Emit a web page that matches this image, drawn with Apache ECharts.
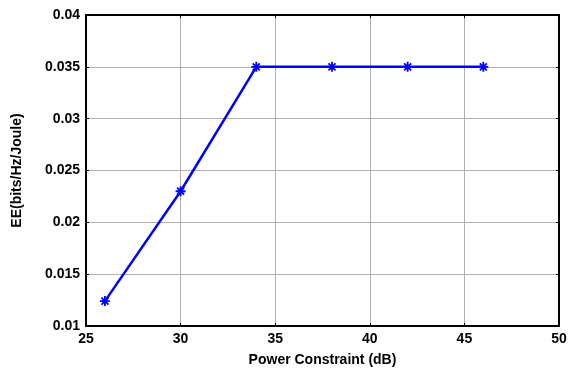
<!DOCTYPE html>
<html>
<head>
<meta charset="utf-8">
<script src="https://cdn.jsdelivr.net/npm/echarts@6/dist/echarts.min.js"></script>
<style>
  html, body { margin: 0; padding: 0; background: #fff; }
  #chart { width: 571px; height: 372px; }
</style>
</head>
<body>
<div id="chart"></div>
<script>
// Power constraint (dB) vs energy efficiency
const powerDb = [26, 30, 34, 38, 42, 46];
const energyEff = [0.0124, 0.023, 0.035, 0.035, 0.035, 0.035];
const xTicks = [25, 30, 35, 40, 45, 50];
const yTicks = [0.01, 0.015, 0.02, 0.025, 0.03, 0.035, 0.04];

const FONT = 'Liberation Sans, Arial, sans-serif';
const BLUE = '#0000ff';

// asterisk marker drawn as stroked segments
const starPath = 'path://M0,5L10,5M5,0L5,10M1.5,1.5L8.5,8.5M1.5,8.5L8.5,1.5';

const tickStyle = { show: true, inside: true, length: 3, lineStyle: { color: '#000', width: 1 } };
const gridLine = { show: true, lineStyle: { color: '#b0b0b0', type: 'solid', width: 1 } };
const labelStyle = { color: '#000', fontFamily: FONT, fontWeight: 'bold', fontSize: 14 };

const chart = echarts.init(document.getElementById('chart'), null, { renderer: 'canvas' });
chart.setOption({
  animation: false,
  backgroundColor: '#fff',
  grid: { left: 86, right: 12, top: 15, bottom: 41, containLabel: false },
  xAxis: [
    {
      type: 'value', min: xTicks[0], max: xTicks[xTicks.length - 1], interval: 5,
      name: 'Power Constraint (dB)', nameLocation: 'middle', nameGap: 27,
      nameTextStyle: labelStyle,
      axisLine: { show: true, onZero: false, lineStyle: { color: '#000', width: 2 } },
      axisTick: tickStyle,
      axisLabel: Object.assign({ margin: 6 }, labelStyle),
      splitLine: gridLine
    },
    {
      type: 'value', position: 'top', min: xTicks[0], max: xTicks[xTicks.length - 1], interval: 5,
      axisLine: { show: true, onZero: false, lineStyle: { color: '#000', width: 2 } },
      axisTick: tickStyle, axisLabel: { show: false }, splitLine: { show: false }
    }
  ],
  yAxis: [
    {
      type: 'value', min: yTicks[0], max: yTicks[yTicks.length - 1], interval: 0.005,
      name: 'EE(bits/Hz/Joule)', nameLocation: 'middle', nameGap: 62, nameRotate: 90,
      nameTextStyle: labelStyle,
      axisLine: { show: true, onZero: false, lineStyle: { color: '#000', width: 2 } },
      axisTick: tickStyle,
      axisLabel: Object.assign({ margin: 6, formatter: v => String(+v.toFixed(3)) }, labelStyle),
      splitLine: gridLine
    },
    {
      type: 'value', position: 'right', min: yTicks[0], max: yTicks[yTicks.length - 1], interval: 0.005,
      axisLine: { show: true, onZero: false, lineStyle: { color: '#000', width: 2 } },
      axisTick: tickStyle, axisLabel: { show: false }, splitLine: { show: false }
    }
  ],
  series: [{
    type: 'line',
    xAxisIndex: 0, yAxisIndex: 0,
    data: powerDb.map((x, i) => [x, energyEff[i]]),
    lineStyle: { color: BLUE, width: 2.5 },
    symbol: starPath,
    symbolSize: 10,
    showAllSymbol: true,
    itemStyle: { color: 'none', borderColor: BLUE, borderWidth: 1.8 },
    z: 5
  }]
});
</script>
</body>
</html>
